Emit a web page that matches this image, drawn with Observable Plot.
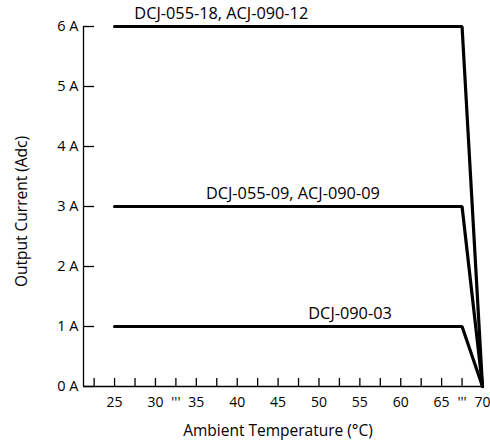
<!DOCTYPE html>
<html>
<head>
<meta charset="utf-8">
<script src="https://cdn.jsdelivr.net/npm/d3@7"></script>
<script src="https://cdn.jsdelivr.net/npm/@observablehq/plot@0.6"></script>
<style>
  html, body { margin: 0; padding: 0; background: #fff; }
  svg { display: block; }
</style>
</head>
<body>
<div id="chart"></div>
<script>
// Data
const temps = [25, 67.5, 70];
const seriesNames = ["DCJ-055-18, ACJ-090-12", "DCJ-055-09, ACJ-090-09", "DCJ-090-03"];
const seriesValues = [
  [6, 6, 0],
  [3, 3, 0],
  [1, 1, 0]
];
const labelX = [38.05, 46.8, 53.8];
const xTickMarks = [22.5, 25, 27.5, 30, 32.5, 35, 37.5, 40, 42.5, 45, 47.5, 50, 52.5, 55, 57.5, 60, 62.5, 65, 67.5, 70];
const xTickLabelValues = [25, 30, 32.5, 35, 40, 45, 50, 55, 60, 65, 67.5, 70];
const xTickLabelText = ["25", "30", "'''", "35", "40", "45", "50", "55", "60", "65", "'''", "70"];
const yTicks = [0, 1, 2, 3, 4, 5, 6];
const yTickLabels = ["0 A", "1 A", "2 A", "3 A", "4 A", "5 A", "6 A"];
const xLabel = "Ambient Temperature (°C)";
const yLabel = "Output Current (Adc)";

const xMin = 21.2, xMax = 70;

const rows = [];
seriesNames.forEach((name, i) => {
  temps.forEach((t, j) => rows.push({series: name, t, v: seriesValues[i][j]}));
});
const labelRows = seriesNames.map((name, i) => ({name, x: labelX[i], y: seriesValues[i][0]}));

const W = 490, H = 444;
const mL = 83, mR = 8, mT = 26, mB = 58;
const frameW = W - mL - mR, frameH = H - mT - mB;
const font = "'Open Sans', sans-serif";

const chart = Plot.plot({
  width: W,
  height: H,
  marginLeft: mL,
  marginRight: mR,
  marginTop: mT,
  marginBottom: mB,
  style: {fontFamily: font, fontSize: "14px", color: "#000", background: "#fff"},
  x: {domain: [xMin, xMax], axis: null},
  y: {domain: [0, 6], axis: null},
  marks: [
    // axis lines
    Plot.ruleY([0], {x1: xMin, x2: xMax, stroke: "#000", strokeWidth: 1.3}),
    Plot.ruleX([xMin], {y1: 0, y2: 6, stroke: "#000", strokeWidth: 1.3}),
    // inward tick marks
    Plot.tickX(xTickMarks, {x: d => d, stroke: "#000", strokeWidth: 1.3, insetTop: frameH - 8}),
    Plot.tickY(yTicks, {y: d => d, stroke: "#000", strokeWidth: 1.3, insetRight: frameW - 11}),
    // tick labels
    Plot.text(xTickLabelValues, {x: d => d, text: (d, i) => xTickLabelText[i], frameAnchor: "bottom", lineAnchor: "middle", dy: 16, fill: "#000", fontSize: 14}),
    Plot.text(yTicks, {y: d => d, text: (d, i) => yTickLabels[i], frameAnchor: "left", dx: -5, textAnchor: "end", lineAnchor: "middle", fill: "#000", fontSize: 14.5}),
    // axis titles
    Plot.text([xLabel], {frameAnchor: "bottom", textAnchor: "middle", lineAnchor: "middle", dy: 45, dx: -5, fill: "#000", fontSize: 15.5}),
    Plot.text([yLabel], {frameAnchor: "left", textAnchor: "middle", lineAnchor: "middle", dx: -61, dy: 5, rotate: -90, fill: "#000", fontSize: 15.5}),
    // derating lines
    Plot.line(rows, {x: "t", y: "v", z: "series", stroke: "#000", strokeWidth: 3.2, strokeLinejoin: "miter"}),
    // series labels
    Plot.text(labelRows, {x: "x", y: "y", text: "name", dy: -13, fill: "#000", fontSize: 16.3})
  ]
});
document.getElementById("chart").appendChild(chart);
</script>
</body>
</html>
